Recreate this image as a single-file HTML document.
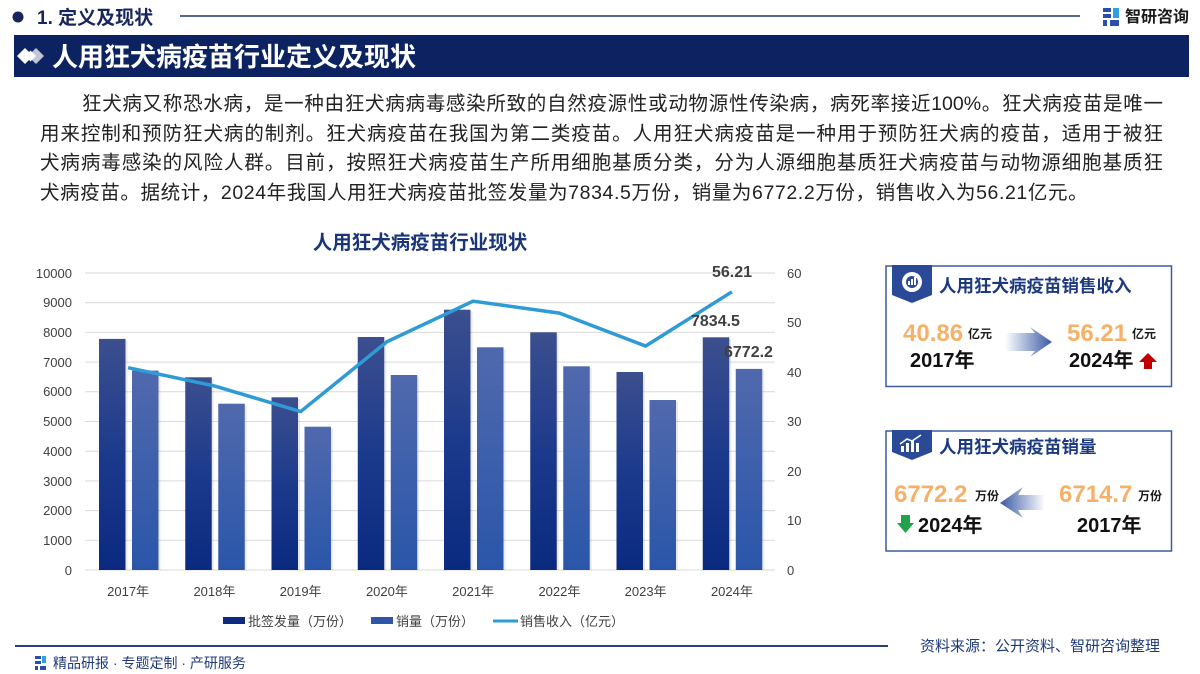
<!DOCTYPE html>
<html><head><meta charset="utf-8">
<style>
html,body{margin:0;padding:0;background:#fff;}
body{width:1200px;height:674px;position:relative;overflow:hidden;font-family:"Liberation Sans","Noto Sans CJK SC",sans-serif;}
.para{position:absolute;left:40px;top:90px;width:1123px;font-size:19.5px;line-height:29.6px;color:#222;}
.para div{text-align:justify;text-align-last:justify;white-space:nowrap;}
.para div.l1{padding-left:42px;}
.para div.last{text-align-last:left;letter-spacing:0.6px;}
svg{position:absolute;left:0;top:0;}
</style></head><body>
<svg width="1200" height="674" viewBox="0 0 1200 674" xmlns="http://www.w3.org/2000/svg" font-family="Liberation Sans, Noto Sans CJK SC, sans-serif">
<defs>
<linearGradient id="gb" x1="0" y1="0" x2="0" y2="1"><stop offset="0" stop-color="#3c4f8e"/><stop offset="0.5" stop-color="#1c3a8c"/><stop offset="1" stop-color="#0a2a80"/></linearGradient>
<linearGradient id="gs" x1="0" y1="0" x2="0" y2="1"><stop offset="0" stop-color="#5069ad"/><stop offset="1" stop-color="#2a56aa"/></linearGradient>
<linearGradient id="ar" x1="0" y1="0" x2="1" y2="0"><stop offset="0" stop-color="#ffffff"/><stop offset="1" stop-color="#3a5aa5"/></linearGradient>
<linearGradient id="al" x1="1" y1="0" x2="0" y2="0"><stop offset="0" stop-color="#ffffff"/><stop offset="1" stop-color="#3a5aa5"/></linearGradient>
</defs>
<!-- header -->
<circle cx="18" cy="17" r="5.5" fill="#16265c"/>
<text x="37" y="24" font-size="19" font-weight="bold" fill="#16265c">1. 定义及现状</text>
<line x1="180" y1="16" x2="1080" y2="16" stroke="#1e3370" stroke-width="1.5"/>
<rect x="1103" y="8" width="8" height="4" fill="#2a4fa8"/>
<rect x="1103" y="14" width="8" height="4" fill="#2a4fa8"/>
<rect x="1103" y="20" width="4" height="6" fill="#2a4fa8"/>
<rect x="1113" y="8" width="6" height="10" fill="#2fa0dc"/>
<rect x="1110" y="20" width="9" height="6" fill="#2a4fa8"/>
<text x="1125" y="22" font-size="16" font-weight="bold" fill="#1a1a1a">智研咨询</text>
<!-- banner -->
<rect x="14" y="35" width="1175" height="42" fill="#0d2361"/>
<polygon points="25,48 33,56 25,64 17,56" fill="#ffffff"/>
<polygon points="36,48 44,56 36,64 28,56" fill="#bfc6d6"/>
<polygon points="30.5,50.5 36,56 30.5,61.5 25,56" fill="#ffffff"/>
<text x="52" y="66" font-size="26" font-weight="bold" fill="#ffffff">人用狂犬病疫苗行业定义及现状</text>

<!-- chart title -->
<text x="420" y="249" font-size="19.5" font-weight="bold" fill="#1a3578" text-anchor="middle">人用狂犬病疫苗行业现状</text>
<!-- gridlines -->
<g stroke="#d9d9d9" stroke-width="1">
<line x1="85" y1="570" x2="775" y2="570"/><line x1="85" y1="540.3" x2="775" y2="540.3"/><line x1="85" y1="510.6" x2="775" y2="510.6"/><line x1="85" y1="480.9" x2="775" y2="480.9"/><line x1="85" y1="451.2" x2="775" y2="451.2"/><line x1="85" y1="421.5" x2="775" y2="421.5"/><line x1="85" y1="391.8" x2="775" y2="391.8"/><line x1="85" y1="362.1" x2="775" y2="362.1"/><line x1="85" y1="332.4" x2="775" y2="332.4"/><line x1="85" y1="302.7" x2="775" y2="302.7"/><line x1="85" y1="273" x2="775" y2="273"/>
</g>
<!-- left axis labels -->
<g font-size="13" fill="#404040" text-anchor="end">
<text x="72" y="575">0</text><text x="72" y="545">1000</text><text x="72" y="515">2000</text><text x="72" y="486">3000</text><text x="72" y="456">4000</text><text x="72" y="426">5000</text><text x="72" y="396">6000</text><text x="72" y="367">7000</text><text x="72" y="337">8000</text><text x="72" y="307">9000</text><text x="72" y="278">10000</text>
</g>
<!-- right axis labels -->
<g font-size="13" fill="#404040">
<text x="787" y="575">0</text><text x="787" y="525">10</text><text x="787" y="476">20</text><text x="787" y="426">30</text><text x="787" y="377">40</text><text x="787" y="327">50</text><text x="787" y="278">60</text>
</g>
<!-- bar shadows -->
<g fill="#000" opacity="0.08">
<rect x="100.5" y="340.4" width="27" height="229.6"/><rect x="186.75" y="378.8" width="27" height="191.2"/><rect x="273" y="398.8" width="27" height="171.2"/><rect x="359.25" y="338.5" width="27" height="231.5"/><rect x="445.5" y="311.2" width="27" height="258.8"/><rect x="531.75" y="333.8" width="27" height="236.2"/><rect x="618" y="373.5" width="27" height="196.5"/><rect x="704.25" y="338.8" width="27" height="231.2"/>
<rect x="133.5" y="372.1" width="27" height="197.9"/><rect x="219.75" y="405.2" width="27" height="164.8"/><rect x="306" y="428.2" width="27" height="141.8"/><rect x="392.25" y="376.5" width="27" height="193.5"/><rect x="478.5" y="348.8" width="27" height="221.2"/><rect x="564.75" y="367.8" width="27" height="202.2"/><rect x="651" y="401.5" width="27" height="168.5"/><rect x="737.25" y="370.4" width="27" height="199.6"/>
</g>
<!-- bars -->
<g>
<rect x="99" y="338.9" width="26.5" height="231.1" fill="url(#gb)"/>
<rect x="185.25" y="377.3" width="26.5" height="192.7" fill="url(#gb)"/>
<rect x="271.5" y="397.3" width="26.5" height="172.7" fill="url(#gb)"/>
<rect x="357.75" y="337" width="26.5" height="233" fill="url(#gb)"/>
<rect x="444" y="309.7" width="26.5" height="260.3" fill="url(#gb)"/>
<rect x="530.25" y="332.3" width="26.5" height="237.7" fill="url(#gb)"/>
<rect x="616.5" y="372" width="26.5" height="198" fill="url(#gb)"/>
<rect x="702.75" y="337.3" width="26.5" height="232.7" fill="url(#gb)"/>
<rect x="132" y="370.6" width="26.5" height="199.4" fill="url(#gs)"/>
<rect x="218.25" y="403.7" width="26.5" height="166.3" fill="url(#gs)"/>
<rect x="304.5" y="426.7" width="26.5" height="143.3" fill="url(#gs)"/>
<rect x="390.75" y="375" width="26.5" height="195" fill="url(#gs)"/>
<rect x="477" y="347.3" width="26.5" height="222.7" fill="url(#gs)"/>
<rect x="563.25" y="366.3" width="26.5" height="203.7" fill="url(#gs)"/>
<rect x="649.5" y="400" width="26.5" height="170" fill="url(#gs)"/>
<rect x="735.75" y="368.9" width="26.5" height="201.1" fill="url(#gs)"/>
</g>
<!-- line -->
<polyline points="128.1,367.7 214.4,385.9 300.6,411.6 386.9,341.8 473.1,301.2 559.4,313.1 645.6,346 731.9,291.8" fill="none" stroke="#2e9bd6" stroke-width="3.5" stroke-linejoin="miter"/>
<!-- data labels -->
<g font-size="16" font-weight="bold" fill="#404040">
<text x="712" y="277">56.21</text>
<text x="691" y="326">7834.5</text>
<text x="724" y="357">6772.2</text>
</g>
<!-- x labels -->
<g font-size="13" fill="#404040" text-anchor="middle">
<text x="128.1" y="596">2017年</text><text x="214.4" y="596">2018年</text><text x="300.6" y="596">2019年</text><text x="386.9" y="596">2020年</text><text x="473.1" y="596">2021年</text><text x="559.4" y="596">2022年</text><text x="645.6" y="596">2023年</text><text x="731.9" y="596">2024年</text>
</g>
<!-- legend -->
<rect x="223" y="617" width="22" height="7" fill="#0d2a80"/>
<text x="248" y="626" font-size="13" fill="#404040">批签发量（万份）</text>
<rect x="371" y="617" width="22" height="7" fill="#2e56a8"/>
<text x="396" y="626" font-size="13" fill="#404040">销量（万份）</text>
<line x1="493" y1="621" x2="518" y2="621" stroke="#2e9bd6" stroke-width="3"/>
<text x="520" y="626" font-size="13" fill="#404040">销售收入（亿元）</text>

<!-- card 1 -->
<rect x="886" y="266" width="285.5" height="120.5" fill="#fff" stroke="#3d5c9e" stroke-width="1.5"/>
<polygon points="892,265 932,265 932,295 912,303 892,295" fill="#2a4a98"/>
<circle cx="912" cy="282" r="10" fill="#fff"/>
<circle cx="912" cy="282" r="6" fill="#2a4a98"/>
<rect x="908" y="281" width="2" height="4" fill="#fff"/><rect x="911" y="279" width="2" height="6" fill="#fff"/><rect x="914" y="277" width="2" height="8" fill="#fff"/>
<text x="939" y="292" font-size="17.5" font-weight="bold" fill="#1d3a80">人用狂犬病疫苗销售收入</text>
<text x="903" y="341" font-size="24" font-weight="bold" fill="#f7b068">40.86</text>
<text x="968" y="338" font-size="12" font-weight="bold" fill="#1a1a1a">亿元</text>
<text x="910" y="367" font-size="20" font-weight="bold" fill="#111">2017年</text>
<polygon points="1005,333 1035,333 1030,327 1052,342 1030,357 1035,351 1005,351" fill="url(#ar)"/>
<text x="1067" y="341" font-size="24" font-weight="bold" fill="#f7b068">56.21</text>
<text x="1132" y="338" font-size="12" font-weight="bold" fill="#1a1a1a">亿元</text>
<text x="1069" y="367" font-size="20" font-weight="bold" fill="#111">2024年</text>
<polygon points="1148,353 1157,362 1152,362 1152,369 1144,369 1144,362 1139,362" fill="#c00000"/>

<!-- card 2 -->
<rect x="886" y="431" width="285.5" height="120" fill="#fff" stroke="#3d5c9e" stroke-width="1.5"/>
<polygon points="892,430 932,430 932,452 912,460 892,452" fill="#2a4a98"/>
<rect x="901" y="446" width="3" height="6" fill="#fff"/><rect x="906" y="443" width="3" height="9" fill="#fff"/><rect x="911" y="441" width="3" height="11" fill="#fff"/><rect x="916" y="443" width="3" height="9" fill="#fff"/>
<polyline points="900,444 907,439 912,441 921,435" fill="none" stroke="#fff" stroke-width="1.5"/>
<text x="939" y="453" font-size="17.5" font-weight="bold" fill="#1d3a80">人用狂犬病疫苗销量</text>
<text x="894" y="502" font-size="24" font-weight="bold" fill="#f7b068">6772.2</text>
<text x="975" y="500" font-size="12" font-weight="bold" fill="#1a1a1a">万份</text>
<polygon points="1045,495 1018,495 1023,487 1000,503 1023,518 1018,510 1045,510" fill="url(#al)"/>
<text x="1059" y="502" font-size="24" font-weight="bold" fill="#f7b068">6714.7</text>
<text x="1138" y="500" font-size="12" font-weight="bold" fill="#1a1a1a">万份</text>
<polygon points="901,515 910,515 910,523 914,523 905.5,533 897,523 901,523" fill="#22a04a"/>
<text x="918" y="532" font-size="20" font-weight="bold" fill="#111">2024年</text>
<text x="1077" y="532" font-size="20" font-weight="bold" fill="#111">2017年</text>

<!-- footer -->
<line x1="15" y1="646" x2="888" y2="646" stroke="#2a3f7a" stroke-width="2"/>
<text x="920" y="651" font-size="15" fill="#1f3a7a">资料来源：公开资料、智研咨询整理</text>
<rect x="35" y="656" width="6" height="3" fill="#2a4fa8"/><rect x="35" y="661" width="6" height="3" fill="#2a4fa8"/><rect x="35" y="666" width="3" height="4" fill="#2a4fa8"/><rect x="42" y="656" width="4" height="7" fill="#2fa0dc"/><rect x="40" y="666" width="6" height="4" fill="#2a4fa8"/>
<text x="53" y="668" font-size="14" fill="#1f3a7a">精品研报 · 专题定制 · 产研服务</text>
</svg>
<div class="para">
<div class="l1">狂犬病又称恐水病，是一种由狂犬病病毒感染所致的自然疫源性或动物源性传染病，病死率接近100%。狂犬病疫苗是唯一</div>
<div>用来控制和预防狂犬病的制剂。狂犬病疫苗在我国为第二类疫苗。人用狂犬病疫苗是一种用于预防狂犬病的疫苗，适用于被狂</div>
<div>犬病病毒感染的风险人群。目前，按照狂犬病疫苗生产所用细胞基质分类，分为人源细胞基质狂犬病疫苗与动物源细胞基质狂</div>
<div class="last">犬病疫苗。据统计，2024年我国人用狂犬病疫苗批签发量为7834.5万份，销量为6772.2万份，销售收入为56.21亿元。</div>
</div>
</body></html>
